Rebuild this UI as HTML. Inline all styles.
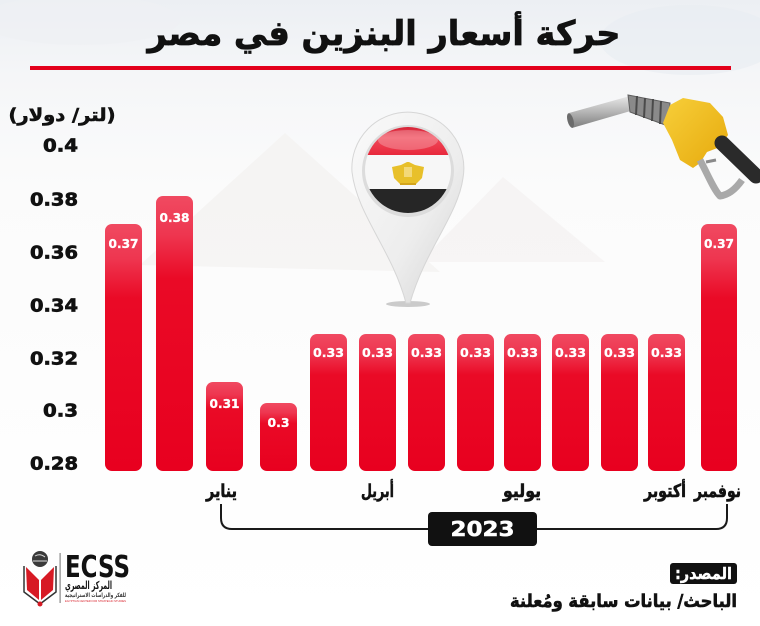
<!DOCTYPE html>
<html><head><meta charset="utf-8">
<style>
html,body{margin:0;padding:0;background:#fff;}
svg{display:block;}
.ar{font-family:"DejaVu Sans","Liberation Sans",sans-serif;font-weight:bold;}
.num{font-family:"DejaVu Sans","Liberation Sans",sans-serif;font-weight:bold;}
</style></head>
<body>
<svg width="760" height="626" viewBox="0 0 760 626" xmlns="http://www.w3.org/2000/svg">
<defs>
<linearGradient id="bg" x1="0" y1="0" x2="0" y2="1">
<stop offset="0" stop-color="#eceff3"/>
<stop offset="0.12" stop-color="#f5f6f8"/>
<stop offset="0.3" stop-color="#fbfbfb"/>
<stop offset="0.6" stop-color="#fdfdfd"/>
<stop offset="1" stop-color="#ffffff"/>
</linearGradient>
<linearGradient id="bar" x1="0" y1="0" x2="0" y2="1">
<stop offset="0" stop-color="#f04a61"/>
<stop offset="0.14" stop-color="#ee3650"/>
<stop offset="0.3" stop-color="#ea0a26"/>
<stop offset="1" stop-color="#e8001f"/>
</linearGradient>
<linearGradient id="pin" x1="0" y1="0" x2="1" y2="1">
<stop offset="0" stop-color="#fafafa"/>
<stop offset="0.6" stop-color="#ededed"/>
<stop offset="1" stop-color="#d2d2d2"/>
</linearGradient>
<linearGradient id="red" x1="0" y1="0" x2="0" y2="1">
<stop offset="0" stop-color="#c4091f"/>
<stop offset="0.5" stop-color="#f04a5a"/>
<stop offset="1" stop-color="#e8283c"/>
</linearGradient>
<linearGradient id="yel" x1="0" y1="0" x2="1" y2="1">
<stop offset="0" stop-color="#f7cf3a"/>
<stop offset="1" stop-color="#e6a90c"/>
</linearGradient>
<linearGradient id="metal" x1="0" y1="0" x2="0" y2="1">
<stop offset="0" stop-color="#e8e8e8"/>
<stop offset="0.5" stop-color="#b5b5b5"/>
<stop offset="1" stop-color="#7d7d7d"/>
</linearGradient>
<clipPath id="flagclip"><circle cx="408" cy="170" r="43"/></clipPath>
</defs>

<rect x="0" y="0" width="760" height="626" fill="url(#bg)"/>
<ellipse cx="690" cy="40" rx="90" ry="35" fill="#e8ecf1" opacity="0.6"/>
<ellipse cx="80" cy="20" rx="100" ry="25" fill="#eef0f3" opacity="0.6"/>
<polygon points="140,265 285,133 440,272" fill="#f4f2f1" opacity="0.8"/>
<polygon points="420,262 503,177 605,262" fill="#f5f3f2" opacity="0.8"/>

<!-- title -->
<text class="ar" x="384" y="45" font-size="34" text-anchor="middle" direction="rtl" textLength="473" lengthAdjust="spacingAndGlyphs" fill="#111" stroke="#111" stroke-width="0.8">حركة أسعار البنزين في مصر</text>
<rect x="30" y="66" width="701" height="4" fill="#e3001b"/>

<!-- unit label -->
<text class="ar" x="62" y="121" font-size="18" text-anchor="middle" direction="rtl" textLength="107" lengthAdjust="spacingAndGlyphs" fill="#111" stroke="#111" stroke-width="0.6">(لتر/ دولار)</text>

<!-- y ticks -->
<g class="num" font-size="18" fill="#111" stroke="#111" stroke-width="0.7" text-anchor="end">
<text x="78" y="151.5" textLength="35" lengthAdjust="spacingAndGlyphs">0.4</text>
<text x="78" y="205.5" textLength="48" lengthAdjust="spacingAndGlyphs">0.38</text>
<text x="78" y="258.5" textLength="48" lengthAdjust="spacingAndGlyphs">0.36</text>
<text x="78" y="311.5" textLength="48" lengthAdjust="spacingAndGlyphs">0.34</text>
<text x="78" y="364.5" textLength="48" lengthAdjust="spacingAndGlyphs">0.32</text>
<text x="78" y="416.5" textLength="35" lengthAdjust="spacingAndGlyphs">0.3</text>
<text x="78" y="469.5" textLength="48" lengthAdjust="spacingAndGlyphs">0.28</text>
</g>

<!-- pin -->
<ellipse cx="408" cy="304" rx="22" ry="3" fill="#9a9a9a" opacity="0.5"/>
<path d="M352,172 A56,56 0 1 1 463,178 C458,215 425,250 410,303 L406,303 C392,250 357,215 352,172 Z" fill="url(#pin)" stroke="#d6d6d6" stroke-width="1"/>
<circle cx="408" cy="171" r="46" fill="#dcdcdc"/>
<g clip-path="url(#flagclip)">
<rect x="360" y="120" width="100" height="35" fill="url(#red)"/>
<rect x="360" y="155" width="100" height="34" fill="#f7f7f7"/>
<rect x="360" y="189" width="100" height="30" fill="#262626"/>
<ellipse cx="408" cy="140" rx="30" ry="10" fill="#ffffff" opacity="0.25"/>
</g>
<path d="M401,165 L407,162 L409,162 L415,165 L424,167 L422,178 L416,184 L400,184 L394,178 L392,167 Z" fill="#e8c02a"/>
<rect x="404" y="167" width="8" height="10" fill="#f3d978"/>
<rect x="400" y="183" width="16" height="2" fill="#d4a51c"/>

<!-- fuel nozzle -->
<polygon points="569,113 630,96 634,110 572,128" fill="url(#metal)"/>
<ellipse cx="570.5" cy="120.5" rx="3" ry="7.5" transform="rotate(-15 570.5 120.5)" fill="#6b6b6b"/>
<polygon points="628,95 670,103 668,126 630,112" fill="#8a8a8a" stroke="#5e5e5e" stroke-width="1"/>
<g stroke="#4a4a4a" stroke-width="2">
<line x1="637" y1="96" x2="636" y2="115"/>
<line x1="645" y1="98" x2="644" y2="118"/>
<line x1="653" y1="99" x2="652" y2="121"/>
<line x1="661" y1="101" x2="660" y2="124"/>
</g>
<polygon points="670,105 683,98 710,103 723,117 728,135 720,147 707,152 700,163 693,168 680,160 672,140 663,123" fill="url(#yel)"/>
<path d="M722,143 L756,176" stroke="#2a2a2a" stroke-width="15" stroke-linecap="round"/>
<path d="M700,160 C708,175 714,190 720,196 C728,195 735,190 742,180" fill="none" stroke="#a9a9a9" stroke-width="7" stroke-linejoin="round"/>
<path d="M706,162 L716,160" stroke="#8a8a8a" stroke-width="3"/>

<!-- bars -->
<g fill="url(#bar)">
<rect x="105" y="224" width="37" height="247" rx="7"/>
<rect x="156" y="196" width="37" height="275" rx="7"/>
<rect x="206" y="382" width="37" height="89" rx="7"/>
<rect x="260" y="403" width="37" height="68" rx="7"/>
<rect x="310" y="334" width="37" height="137" rx="7"/>
<rect x="359" y="334" width="37" height="137" rx="7"/>
<rect x="408" y="334" width="37" height="137" rx="7"/>
<rect x="457" y="334" width="37" height="137" rx="7"/>
<rect x="504" y="334" width="37" height="137" rx="7"/>
<rect x="552" y="334" width="37" height="137" rx="7"/>
<rect x="601" y="334" width="37" height="137" rx="7"/>
<rect x="648" y="334" width="37" height="137" rx="7"/>
<rect x="701" y="224" width="36" height="247" rx="7"/>
</g>
<g class="num" font-size="12" fill="#fff" stroke="#fff" stroke-width="0.3" text-anchor="middle">
<text x="123.5" y="248" textLength="30" lengthAdjust="spacingAndGlyphs">0.37</text>
<text x="174.5" y="222" textLength="30" lengthAdjust="spacingAndGlyphs">0.38</text>
<text x="224.5" y="408" textLength="30" lengthAdjust="spacingAndGlyphs">0.31</text>
<text x="278.5" y="427" textLength="22" lengthAdjust="spacingAndGlyphs">0.3</text>
<text x="328.5" y="357" textLength="31" lengthAdjust="spacingAndGlyphs">0.33</text>
<text x="377.5" y="357" textLength="31" lengthAdjust="spacingAndGlyphs">0.33</text>
<text x="426.5" y="357" textLength="31" lengthAdjust="spacingAndGlyphs">0.33</text>
<text x="475.5" y="357" textLength="31" lengthAdjust="spacingAndGlyphs">0.33</text>
<text x="522.5" y="357" textLength="31" lengthAdjust="spacingAndGlyphs">0.33</text>
<text x="570.5" y="357" textLength="31" lengthAdjust="spacingAndGlyphs">0.33</text>
<text x="619.5" y="357" textLength="31" lengthAdjust="spacingAndGlyphs">0.33</text>
<text x="666.5" y="357" textLength="31" lengthAdjust="spacingAndGlyphs">0.33</text>
<text x="719" y="248" textLength="30" lengthAdjust="spacingAndGlyphs">0.37</text>
</g>

<!-- month labels -->
<g class="ar" font-size="18" fill="#111" stroke="#111" stroke-width="0.6" text-anchor="middle" direction="rtl">
<text x="221.5" y="497" textLength="31" lengthAdjust="spacingAndGlyphs">يناير</text>
<text x="377.5" y="497" textLength="33" lengthAdjust="spacingAndGlyphs">أبريل</text>
<text x="522" y="497" textLength="38" lengthAdjust="spacingAndGlyphs">يوليو</text>
<text x="665" y="497" textLength="42" lengthAdjust="spacingAndGlyphs">أكتوبر</text>
<text x="717.5" y="497" textLength="47" lengthAdjust="spacingAndGlyphs">نوفمبر</text>
</g>

<!-- bracket -->
<path d="M221,504 L221,518 Q221,529 232,529 L716,529 Q727,529 727,518 L727,504" fill="none" stroke="#1a1a1a" stroke-width="2"/>
<rect x="428" y="512" width="109" height="34" rx="4" fill="#111"/>
<text class="num" x="482.5" y="536" font-size="20" fill="#fff" stroke="#fff" stroke-width="0.5" text-anchor="middle" textLength="64" lengthAdjust="spacingAndGlyphs">2023</text>

<!-- logo -->
<circle cx="40" cy="559" r="8" fill="#3a3a3a"/>
<path d="M35,556 Q40,553 45,557 M33,561 L47,561" stroke="#ddd" stroke-width="1" fill="none"/>
<path d="M26,567 L39,580 L39,600 L27,590 Z" fill="#d71a24"/>
<path d="M54,567 L41,580 L41,600 L53,590 Z" fill="#d71a24"/>
<path d="M24,566 L24,592 L40,604 L56,592 L56,566" fill="none" stroke="#333" stroke-width="1.5"/>
<circle cx="40" cy="604" r="2.5" fill="#d71a24"/>
<rect x="59.5" y="553" width="1.2" height="50" fill="#888"/>
<text x="65" y="577" font-family="DejaVu Sans,Liberation Sans,sans-serif" font-weight="bold" font-size="30" fill="#111" textLength="65" lengthAdjust="spacingAndGlyphs">ECSS</text>
<text class="ar" x="112" y="589" font-size="11" fill="#111" text-anchor="start" direction="rtl" textLength="47" lengthAdjust="spacingAndGlyphs">المركز المصري</text>
<text class="ar" x="126" y="597" font-size="6" fill="#333" text-anchor="start" direction="rtl" textLength="61" lengthAdjust="spacingAndGlyphs">للفكر والدراسات الاستراتيجية</text>
<text x="65" y="602" font-family="Liberation Sans,sans-serif" font-size="3" fill="#d71a24" textLength="61" lengthAdjust="spacingAndGlyphs">EGYPTIAN CENTER FOR STRATEGIC STUDIES</text>

<!-- source -->
<rect x="670" y="563" width="67" height="21" rx="3" fill="#111"/>
<text class="ar" x="703.5" y="579" font-size="16" fill="#fff" stroke="#fff" stroke-width="0.4" text-anchor="middle" direction="rtl" textLength="57" lengthAdjust="spacingAndGlyphs">المصدر:</text>
<text class="ar" x="737" y="607" font-size="18" fill="#111" stroke="#111" stroke-width="0.6" text-anchor="start" direction="rtl" textLength="227" lengthAdjust="spacingAndGlyphs">الباحث/ بيانات سابقة ومُعلنة</text>
</svg>
</body></html>
